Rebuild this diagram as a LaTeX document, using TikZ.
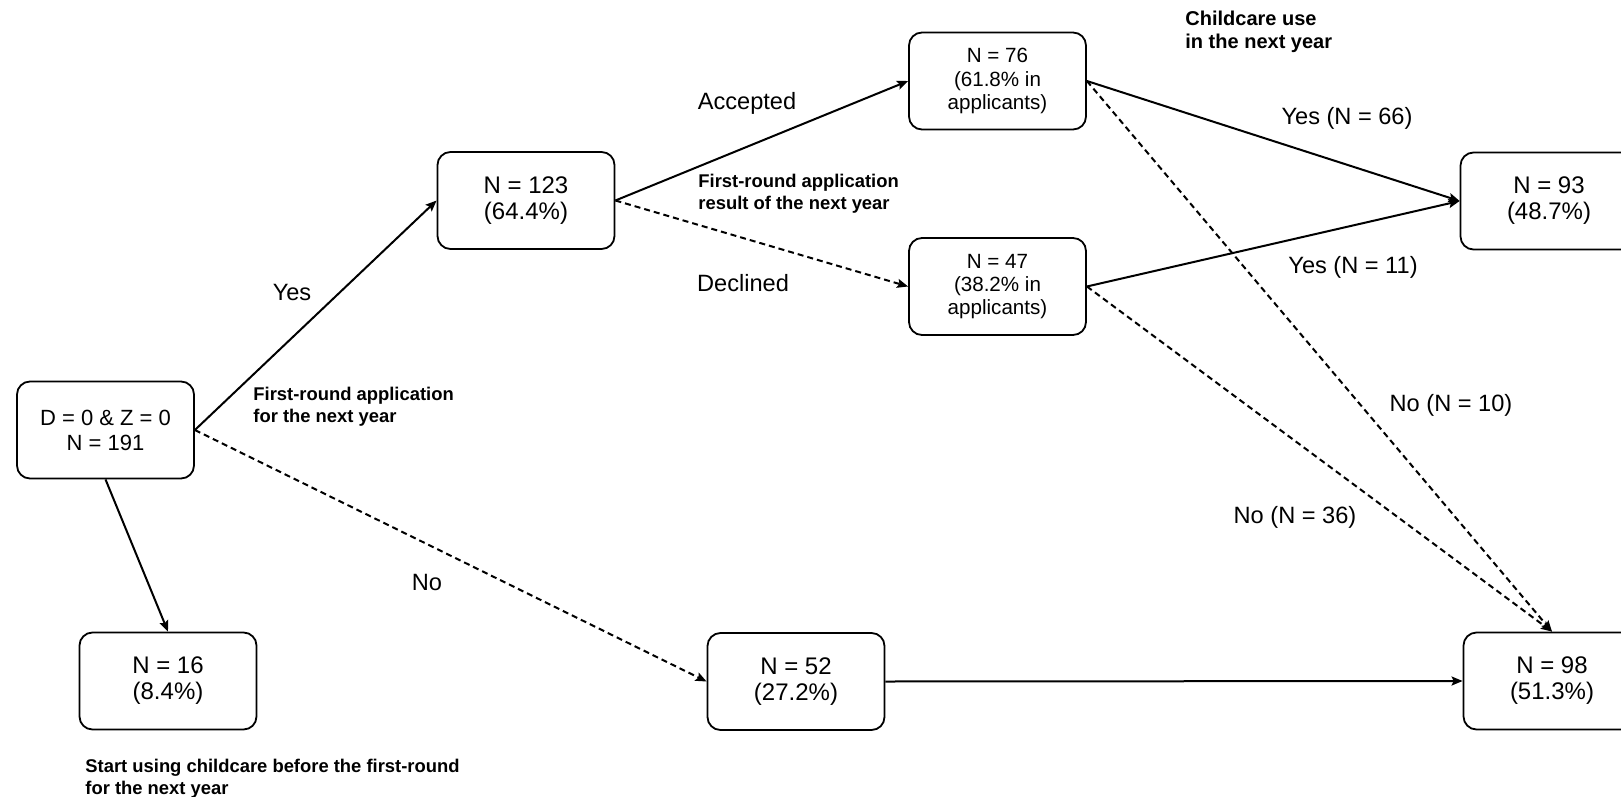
\documentclass[tikz,border=0pt]{standalone}
\usepackage{fontspec}
\setmainfont{Liberation Sans}
\usetikzlibrary{arrows.meta}

\tikzset{
	box/.style={draw, rounded corners=6.5pt, line width=0.9pt, minimum width=88.5pt, minimum height=48.5pt, align=center, inner sep=2pt, font=\fontsize{12}{13}\selectfont},
	smallbox/.style={box, font=\fontsize{10.3}{11.7}\selectfont},
	rootbox/.style={box, font=\fontsize{11}{12.5}\selectfont},
	flow/.style={-{Stealth[length=5.5pt,width=4.5pt,inset=1pt]}, line width=1pt},
	flowdash/.style={flow, dash pattern=on 3pt off 2pt},
	lbl/.style={font=\fontsize{11.8}{13}\selectfont, inner sep=0pt},
	note/.style={font=\bfseries\fontsize{9.2}{10.8}\selectfont, align=left, anchor=west, inner sep=0pt},
}

\begin{document}
\begin{tikzpicture}[x=0.5pt, y=-0.5pt]
	\useasboundingbox (0,0) rectangle (1621,797);

	% boxes
	\node[rootbox] (root) at (105.5,430) {D = 0 \& Z = 0\\N = 191};
	\node[box] (n16) at (168,681) {N = 16\\(8.4\%)};
	\node[box] (n123) at (526,200.5) {N = 123\\(64.4\%)};
	\node[box] (n52) at (796,681.5) {N = 52\\(27.2\%)};
	\node[smallbox] (n76) at (997.5,81) {N = 76\\(61.8\% in\\applicants)};
	\node[smallbox] (n47) at (997.5,286.5) {N = 47\\(38.2\% in\\applicants)};
	\node[box] (n93) at (1549,201) {N = 93\\(48.7\%)};
	\node[box] (n98) at (1552,681) {N = 98\\(51.3\%)};

	% connectors
	\draw[flow] (root.east) -- (n123.west);
	\draw[flowdash] (root.east) -- (n52.west);
	\draw[flow] (root.south) -- (n16.north);
	\draw[flow] (n123.east) -- (n76.west);
	\draw[flowdash] (n123.east) -- (n47.west);
	\draw[flow] (n76.east) -- (n93.west);
	\draw[flow] (n47.east) -- (n93.west);
	\draw[flowdash] (n76.east) -- (n98.north);
	\draw[flowdash] (n47.east) -- (n98.north);
	\draw[flow] (n52.east) -- (n98.west);

	% edge labels
	\node[lbl] (yes) at (292,292) {Yes};
	\node[lbl] (no) at (427,582) {No};
	\node[lbl] (acc) at (747,103) {Accepted};
	\node[lbl] (dec) at (743,283) {Declined};
	\node[lbl] (yes66) at (1347,118) {Yes (N = 66)};
	\node[lbl] (yes11) at (1353,267) {Yes (N = 11)};
	\node[lbl] (no10) at (1451,405) {No (N = 10)};
	\node[lbl] (no36) at (1295,517) {No (N = 36)};

	% notes
	\node[note] (apply) at (253,407) {First-round application\\for the next year};
	\node[note] (result) at (698,194) {First-round application\\result of the next year};
	\node[note, font=\bfseries\fontsize{10}{11.5}\selectfont] (use) at (1185,31.5) {Childcare use\\in the next year};
	\node[note] (early) at (85,779) {Start using childcare before the first-round\\for the next year};
\end{tikzpicture}
\end{document}
